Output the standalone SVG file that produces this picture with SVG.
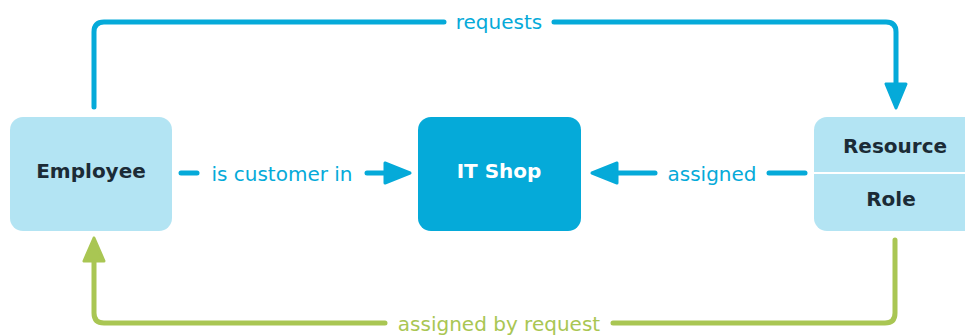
<svg xmlns="http://www.w3.org/2000/svg" width="965" height="336" viewBox="0 0 965 336">
<style>
.box{fill:#b3e4f3}
.dark{fill:#05aad9}
.nt{font-family:"DejaVu Sans",Verdana,sans-serif;font-weight:bold;font-size:20px;text-anchor:middle;fill:#1b2b36}
.lbl{font-family:"DejaVu Sans",Verdana,sans-serif;font-size:20px;text-anchor:middle}
.b{stroke:#05aad9;stroke-width:5;fill:none;stroke-linecap:round;stroke-linejoin:round}
.g{stroke:#a9c653;stroke-width:5;fill:none;stroke-linecap:round;stroke-linejoin:round}
.bh{fill:#05aad9;stroke:#05aad9;stroke-width:3;stroke-linejoin:round}
.gh{fill:#a9c653;stroke:#a9c653;stroke-width:3;stroke-linejoin:round}
</style>
<rect width="965" height="336" fill="#ffffff"/>
<g id="employee">
<rect class="box" x="10" y="117" width="162" height="114" rx="13"/>
<text class="nt" x="91" y="178">Employee</text>
</g>
<g id="itshop">
<rect class="dark" x="418" y="117" width="163" height="114" rx="13"/>
<text class="nt" x="499" y="178" fill="#ffffff" style="fill:#ffffff">IT Shop</text>
</g>
<g id="resource-role">
<rect class="box" x="814" y="117" width="166" height="114" rx="13"/>
<line x1="814" y1="173" x2="965" y2="173" stroke="#ffffff" stroke-width="2"/>
<text class="nt" x="895" y="153">Resource</text>
<text class="nt" x="891" y="206">Role</text>
</g>
<g id="connectors">
<path class="b" d="M94 107 V32 Q94 22 104 22 H444"/>
<path class="b" d="M554 22 H886 Q896 22 896 32 V84"/>
<polygon class="bh" points="886,84 906,84 896,108"/>
<text class="lbl" x="499" y="29" fill="#05aad9">requests</text>
<line class="b" x1="181" y1="173" x2="197" y2="173"/>
<text class="lbl" x="282" y="181" fill="#05aad9">is customer in</text>
<line class="b" x1="367" y1="173" x2="387" y2="173"/>
<polygon class="bh" points="385,163 385,183 410,173"/>
<polygon class="bh" points="617,163 617,183 592,173"/>
<line class="b" x1="615" y1="173" x2="655" y2="173"/>
<text class="lbl" x="712" y="181" fill="#05aad9">assigned</text>
<line class="b" x1="769" y1="173" x2="805" y2="173"/>
<path class="g" d="M895 240 V313 Q895 323 885 323 H613"/>
<path class="g" d="M385 323 H104 Q94 323 94 313 V260"/>
<polygon class="gh" points="84,261 104,261 94,238"/>
<text class="lbl" x="499" y="331" fill="#a9c653">assigned by request</text>
</g>
</svg>
